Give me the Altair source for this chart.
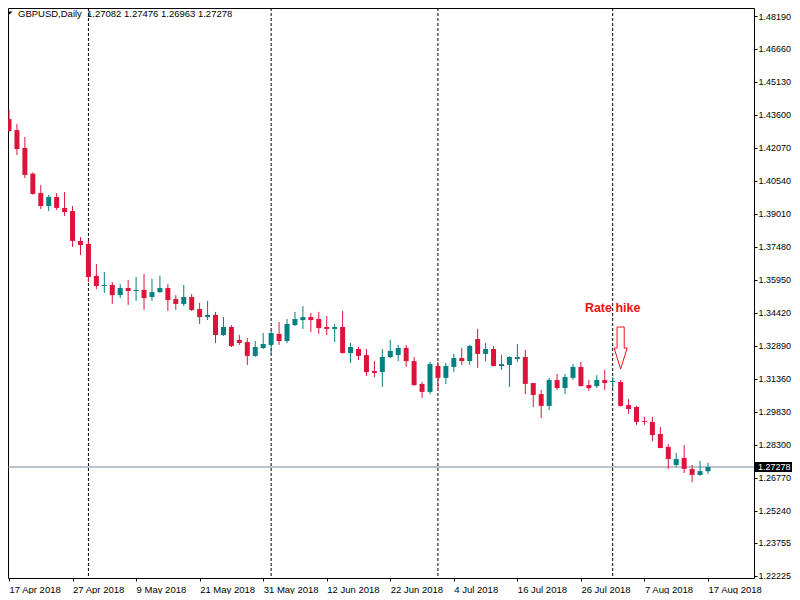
import altair as alt
import pandas as pd

# ---------------- data ----------------
dates = [d.strftime("%Y-%m-%d") for d in pd.bdate_range("2018-04-17", "2018-08-17")]

opens = [1.4341, 1.4290, 1.4207, 1.4088, 1.3998, 1.3938, 1.3980, 1.3929, 1.3915, 1.3776,
         1.3762, 1.3614, 1.3567, 1.3572, 1.3525, 1.3558, 1.3544, 1.3549, 1.3516, 1.3539,
         1.3558, 1.3507, 1.3484, 1.3516, 1.3460, 1.3423, 1.3433, 1.3340, 1.3377, 1.3317,
         1.3307, 1.3243, 1.3280, 1.3294, 1.3345, 1.3312, 1.3386, 1.3409, 1.3423, 1.3414,
         1.3377, 1.3368, 1.3377, 1.3256, 1.3275, 1.3247, 1.3173, 1.3168, 1.3238, 1.3247,
         1.3280, 1.3219, 1.3113, 1.3076, 1.3196, 1.3141, 1.3192, 1.3233, 1.3219, 1.3321,
         1.3252, 1.3275, 1.3196, 1.3201, 1.3229, 1.3238, 1.3117, 1.3066, 1.3011, 1.3131,
         1.3094, 1.3141, 1.3192, 1.3108, 1.3103, 1.3131, 1.3122, 1.3122, 1.3015, 1.3006,
         1.2941, 1.2937, 1.2881, 1.2821, 1.2737, 1.2770, 1.2719, 1.2691, 1.27082]
highs = [1.4383, 1.4318, 1.4258, 1.4094, 1.4035, 1.3989, 1.3998, 1.4003, 1.3938, 1.3794,
         1.3776, 1.3669, 1.3632, 1.3586, 1.3576, 1.3595, 1.3609, 1.3623, 1.3600, 1.3614,
         1.3576, 1.3525, 1.3572, 1.3530, 1.3488, 1.3498, 1.3447, 1.3423, 1.3386, 1.3340,
         1.3326, 1.3312, 1.3349, 1.3363, 1.3400, 1.3414, 1.3447, 1.3474, 1.3442, 1.3447,
         1.3428, 1.3391, 1.3451, 1.3303, 1.3284, 1.3275, 1.3219, 1.3275, 1.3317, 1.3294,
         1.3294, 1.3238, 1.3122, 1.3215, 1.3215, 1.3210, 1.3252, 1.3280, 1.3294, 1.3368,
         1.3303, 1.3289, 1.3247, 1.3242, 1.3298, 1.3270, 1.3117, 1.3085, 1.3141, 1.3159,
         1.3159, 1.3205, 1.3215, 1.3131, 1.3154, 1.3178, 1.3145, 1.3131, 1.3043, 1.3011,
         1.2960, 1.2960, 1.2913, 1.2835, 1.2793, 1.2830, 1.2737, 1.2756, 1.27476]
lows = [1.4281, 1.4175, 1.4068, 1.3990, 1.3924, 1.3915, 1.3920, 1.3892, 1.3748, 1.3711,
        1.3586, 1.3553, 1.3535, 1.3484, 1.3511, 1.3479, 1.3498, 1.3456, 1.3498, 1.3535,
        1.3451, 1.3456, 1.3474, 1.3451, 1.3391, 1.3409, 1.3303, 1.3335, 1.3284, 1.3294,
        1.3201, 1.3238, 1.3275, 1.3252, 1.3294, 1.3303, 1.3382, 1.3368, 1.3354, 1.3345,
        1.3340, 1.3307, 1.3254, 1.3210, 1.3224, 1.3150, 1.3145, 1.3099, 1.3233, 1.3219,
        1.3192, 1.3103, 1.3048, 1.3066, 1.3090, 1.3113, 1.3168, 1.3201, 1.3201, 1.3187,
        1.3219, 1.3194, 1.3178, 1.3099, 1.3215, 1.3066, 1.3006, 1.2955, 1.2992, 1.3085,
        1.3066, 1.3131, 1.3101, 1.3080, 1.3094, 1.3085, 1.3094, 1.3008, 1.2974, 1.2923,
        1.2923, 1.2848, 1.2814, 1.2719, 1.2728, 1.2700, 1.2658, 1.2686, 1.26963]
closes = [1.4286, 1.4202, 1.4082, 1.3994, 1.3938, 1.3980, 1.3929, 1.3910, 1.3776, 1.3757,
          1.3609, 1.3567, 1.3572, 1.3525, 1.3558, 1.3544, 1.3549, 1.3511, 1.3539, 1.3558,
          1.3502, 1.3484, 1.3516, 1.3456, 1.3423, 1.3433, 1.3340, 1.3377, 1.3289, 1.3303,
          1.3243, 1.3284, 1.3298, 1.3349, 1.3312, 1.3391, 1.3414, 1.3423, 1.3409, 1.3372,
          1.3368, 1.3377, 1.3256, 1.3284, 1.3243, 1.3168, 1.3164, 1.3238, 1.3266, 1.3280,
          1.3219, 1.3108, 1.3076, 1.3205, 1.3141, 1.3196, 1.3233, 1.3219, 1.3289, 1.3252,
          1.3275, 1.3196, 1.3205, 1.3238, 1.3238, 1.3113, 1.3062, 1.3011, 1.3131, 1.3094,
          1.3145, 1.3192, 1.3103, 1.3094, 1.3131, 1.3117, 1.3127, 1.3011, 1.2997, 1.2937,
          1.2937, 1.2876, 1.2816, 1.2765, 1.2765, 1.2719, 1.2691, 1.2709, 1.27278]

tick_labels = ["17 Apr 2018", "27 Apr 2018", "9 May 2018", "21 May 2018", "31 May 2018",
               "12 Jun 2018", "22 Jun 2018", "4 Jul 2018", "16 Jul 2018", "26 Jul 2018",
               "7 Aug 2018", "17 Aug 2018"]
tick_index = [0, 8, 16, 24, 32, 40, 48, 56, 64, 72, 80, 88]
price_ticks = [1.48190, 1.46660, 1.45130, 1.43600, 1.42070, 1.40540, 1.39010, 1.37480,
               1.35950, 1.34420, 1.32890, 1.31360, 1.29830, 1.28300, 1.26770, 1.25240,
               1.23755, 1.22225]
month_starts = [10, 33, 54, 76]          # 1 May, 1 Jun, 2 Jul, 1 Aug
last_price = 1.27278
symbol_text = "GBPUSD,Daily"
ohlc_text = "1.27082 1.27476 1.26963 1.27278"
event_text = "Rate hike"
event_index = 77
event_text_price = 1.3465
event_arrow_price = 1.32796

df = pd.DataFrame({"i": list(range(len(dates))), "date": dates, "open": opens,
                   "high": highs, "low": lows, "close": closes})

FONT = "Liberation Sans"
RED = "#DC143C"
TEAL = "#008080"
W, H = 746, 570

xscale = alt.Scale(domain=[-0.126, 93.79], nice=False, zero=False, padding=0)
yscale = alt.Scale(domain=[1.22132, 1.48561], nice=False, zero=False, padding=0)

label_array = "[" + ",".join("'" + s + "'" for s in tick_labels) + "]"
xaxis = alt.Axis(values=tick_index, labelExpr=label_array + "[round(datum.value/8)]",
                 labelAlign="left", labelBaseline="top", labelFlush=False, labelOverlap=False,
                 tickSize=3, tickColor="black", labelPadding=3, labelFont=FONT,
                 labelFontSize=9.5, labelColor="black", domain=False, grid=False, title=None)
yaxis = alt.Axis(orient="right", values=price_ticks, format=".5f", labelAlign="left",
                 labelBaseline="middle", labelFlush=False, labelOverlap=False, tickSize=3,
                 tickColor="black", offset=0, labelPadding=1, labelFont=FONT,
                 labelFontSize=9, labelColor="black", domain=False, grid=False, title=None)

X = alt.X("i:Q", scale=xscale, axis=xaxis)
color_cond = alt.condition("datum.close >= datum.open", alt.value(TEAL), alt.value(RED))

base = alt.Chart(df)

sep = alt.Chart(pd.DataFrame({"i": month_starts})).mark_rule(
    color="black", strokeWidth=1, strokeDash=[3, 2]).encode(x=X)

price_line = alt.Chart(pd.DataFrame({"p": [last_price]})).mark_rule(
    color="#778899", strokeWidth=1).encode(y=alt.Y("p:Q", scale=yscale, axis=yaxis))

wicks = base.mark_rule(strokeWidth=1).encode(
    x=X, y=alt.Y("low:Q", scale=yscale, axis=yaxis), y2="high:Q", color=color_cond)

bodies = base.mark_bar(width=5).encode(
    x=X, y=alt.Y("open:Q", scale=yscale, axis=yaxis), y2="close:Q", color=color_cond)

ann = pd.DataFrame({"i": [event_index - 1], "p": [event_text_price], "t": [event_text]})
ann_text = alt.Chart(ann).mark_text(
    font=FONT, fontSize=12.5, fontWeight="bold", color="#F01010",
    align="center", baseline="middle").encode(
    x=X, y=alt.Y("p:Q", scale=yscale, axis=yaxis), text="t:N")

arrow = alt.Chart(pd.DataFrame({"i": [event_index], "p": [event_arrow_price]})).mark_point(
    shape="M-0.17,-1 L0.17,-1 L0.17,0 L0.31,0 L0,1 L-0.31,0 L-0.17,0 Z",
    size=1764, filled=False, color="#F01010", strokeWidth=1, opacity=1).encode(
    x=X, y=alt.Y("p:Q", scale=yscale, axis=yaxis))

# last price tag on the price scale
tag = alt.Chart(pd.DataFrame({"p": [last_price]})).mark_rule(
    color="black", strokeWidth=10).encode(
    x=alt.value(W + 1), x2=alt.value(W + 38), y=alt.Y("p:Q", scale=yscale, axis=yaxis))
tag_text = alt.Chart(pd.DataFrame({"p": [last_price], "t": ["%.5f" % last_price]})).mark_text(
    font=FONT, fontSize=9, color="white", align="left", baseline="middle").encode(
    x=alt.value(W + 4), y=alt.Y("p:Q", scale=yscale, axis=yaxis), text="t:N")

# header
tri = alt.Chart(pd.DataFrame({"k": [0]})).mark_point(
    shape="M-1,-0.5 L1,-0.5 L0,0.5 Z", size=36, filled=True, color="black", opacity=1).encode(
    x=alt.value(1.5), y=alt.value(5))
hdr1 = alt.Chart(pd.DataFrame({"t": [symbol_text]})).mark_text(
    font=FONT, fontSize=9.5, color="black", align="left", baseline="middle").encode(
    x=alt.value(10), y=alt.value(6), text="t:N")
hdr2 = alt.Chart(pd.DataFrame({"t": [ohlc_text]})).mark_text(
    font=FONT, fontSize=9.5, color="black", align="left", baseline="middle").encode(
    x=alt.value(79), y=alt.value(6), text="t:N")

chart = alt.layer(sep, price_line, wicks, bodies, ann_text, arrow, tag, tag_text,
                  tri, hdr1, hdr2).properties(
    width=W, height=H,
    padding={"left": 0, "top": 0, "right": 38, "bottom": 16},
    autosize=alt.AutoSizeParams(type="none"),
    background="white",
).configure_view(stroke="black", strokeWidth=1, fill="white")

chart.save("out.html", embed_options={"renderer": "svg", "actions": False})
